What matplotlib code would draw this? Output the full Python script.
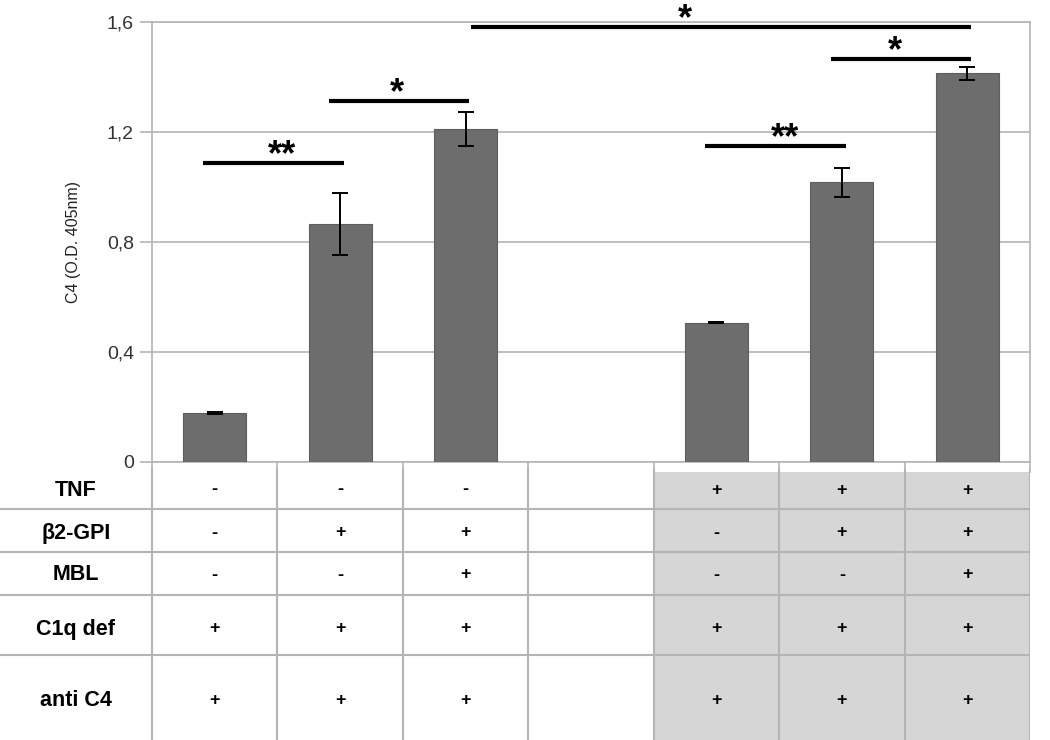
import numpy as np
import matplotlib
matplotlib.use('Agg')
import matplotlib.pyplot as plt
from matplotlib.patches import Rectangle

plt.rcParams['font.family'] = ['Liberation Sans', 'DejaVu Sans']

# bar data (slot 3 is an empty spacer column)
slots = [0, 1, 2, 4, 5, 6]
values = [0.178, 0.865, 1.211, 0.507, 1.017, 1.413]
errors = [0.004, 0.112, 0.063, 0.003, 0.052, 0.024]

# significance brackets: (bar slot from, bar slot to, height, label, label x)
sig_from = [0, 1, 2, 5, 4]
sig_to = [1, 2, 6, 6, 5]
sig_height = [1.087, 1.313, 1.582, 1.465, 1.149]
sig_label = ['**', '*', '*', '*', '**']
sig_label_x = [1.04, 1.95, 4.25, 5.92, 5.05]

yticks = [0, 0.4, 0.8, 1.2, 1.6]
ytick_labels = ['0', '0,4', '0,8', '1,2', '1,6']

row_labels = ['TNF', 'β2-GPI', 'MBL', 'C1q def', 'anti C4']
conditions = [
    ['-', '-', '-', '', '+', '+', '+'],
    ['-', '+', '+', '', '-', '+', '+'],
    ['-', '-', '+', '', '-', '-', '+'],
    ['+', '+', '+', '', '+', '+', '+'],
    ['+', '+', '+', '', '+', '+', '+'],
]
shaded_cols = [4, 5, 6]

W, H = 1050, 740
n_slots = 7
grid_c = '#b4b4b4'

fig = plt.figure(figsize=(W / 100, H / 100), dpi=100)
ax = fig.add_axes([152 / W, 1 - 462 / H, (1030 - 152) / W, (462 - 22) / H])

x = np.array(slots) + 0.5
ax.bar(x, values, width=0.5, color='#6d6d6d', edgecolor='#5e5e5e', lw=0.8,
       yerr=errors, capsize=6, zorder=3,
       error_kw=dict(ecolor='black', elinewidth=1.4, capthick=1.4, zorder=4))

ax.set_xlim(0, n_slots)
ax.set_ylim(0, 1.6)
ax.set_yticks(yticks)
ax.set_yticklabels(ytick_labels, fontsize=14, color='#333333')
ax.set_xticks(np.arange(n_slots + 1))
ax.set_xticklabels([])
ax.tick_params(axis='y', length=9, color=grid_c, width=1.2, pad=4)
ax.tick_params(axis='x', length=8, color=grid_c, width=1.2)
ax.yaxis.grid(True, color=grid_c, lw=1.2, zorder=0)
for s in ax.spines.values():
    s.set_color(grid_c)
    s.set_linewidth(1.2)
ax.set_ylabel('C4 (O.D. 405nm)', fontsize=11.5, color='#222222')
ax.yaxis.set_label_coords(-0.081, 0.5)

for a, b, h, lab, lx in zip(sig_from, sig_to, sig_height, sig_label, sig_label_x):
    x0 = a + 0.5 - 0.09 if lab == '**' or a < 2 or a == 5 else a + 0.54
    x1 = b + 0.53
    ax.plot([x0, x1], [h, h], color='black', lw=3, solid_capstyle='butt',
            clip_on=False, zorder=5)
    ax.annotate(lab, xy=(lx, h), xytext=(0, 5.5), textcoords='offset points',
                ha='center', va='center', fontsize=26, fontweight='bold',
                annotation_clip=False)

# condition table
slot_px = (1030 - 152) / n_slots
tax = fig.add_axes([0, 0, 1030 / W, (740 - 462) / H])
tax.set_xlim(-152 / slot_px, n_slots)
tax.set_ylim(278, 0)
tax.axis('off')

row_edges = [10, 47, 90, 133, 193, 278]
row_text_y = [28, 71, 113, 167, 238]

for c in shaded_cols:
    tax.add_patch(Rectangle((c, row_edges[0]), 1, row_edges[-1] - row_edges[0],
                            facecolor='#d6d6d6', edgecolor='none', zorder=0))
for e in row_edges[1:-1]:
    tax.plot([-152 / slot_px, n_slots], [e, e], color=grid_c, lw=1.5, zorder=1)
for c in range(n_slots + 1):
    tax.plot([c, c], [8, 278], color=grid_c, lw=1.5, zorder=1)

for r, (lab, row) in enumerate(zip(row_labels, conditions)):
    tax.text(-76 / slot_px, row_text_y[r], lab, ha='center', va='center',
             fontsize=15.5, fontweight='bold')
    for c, val in enumerate(row):
        if val:
            tax.text(c + 0.5, row_text_y[r], val, ha='center', va='center',
                     fontsize=13, fontweight='bold')

fig.savefig('out.png', dpi=100)
